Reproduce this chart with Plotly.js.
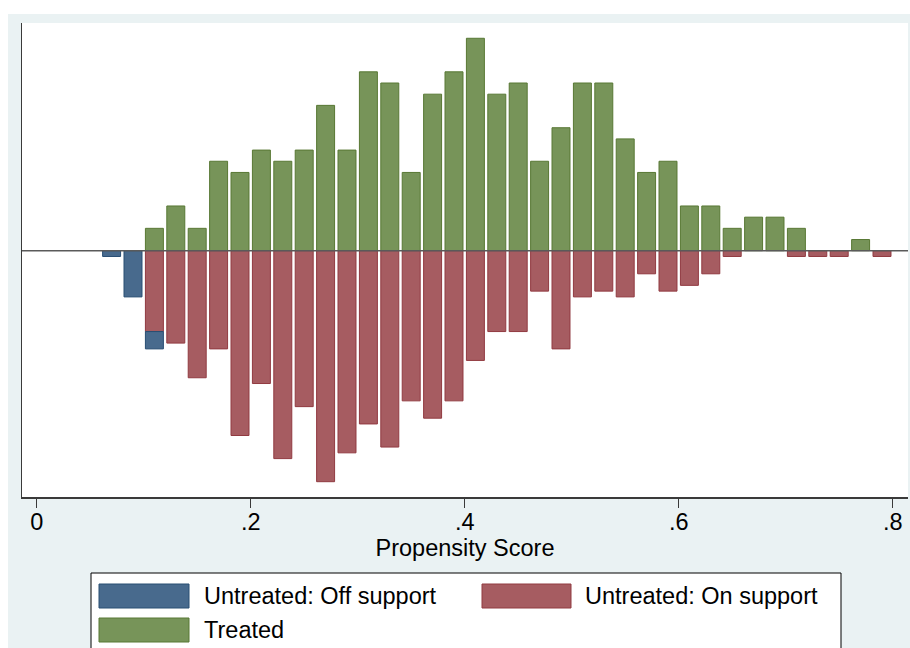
<!DOCTYPE html>
<html>
<head>
<meta charset="utf-8">
<script src="https://cdn.plot.ly/plotly-3.0.1.min.js"></script>
<style>
  html, body { margin: 0; padding: 0; background: #ffffff; width: 910px; height: 648px; overflow: hidden; }
  #chart { position: absolute; left: 8px; top: 14px; width: 902px; height: 634px; }
</style>
</head>
<body>
<div id="chart"></div>
<script>
// Propensity score bins (bin centres)
const treatedX      = [0.11,0.13,0.15,0.17,0.19,0.21,0.23,0.25,0.27,0.29,0.31,0.33,0.35,0.37,0.39,0.41,0.43,0.45,0.47,0.49,0.51,0.53,0.55,0.57,0.59,0.61,0.63,0.65,0.67,0.69,0.71,0.77];
const treatedCount  = [2,4,2,8,7,9,8,9,13,9,16,15,7,14,16,19,14,15,8,11,15,15,10,7,8,4,4,2,3,3,2,1];

const onSupportX     = [0.11,0.13,0.15,0.17,0.19,0.21,0.23,0.25,0.27,0.29,0.31,0.33,0.35,0.37,0.39,0.41,0.43,0.45,0.47,0.49,0.51,0.53,0.55,0.57,0.59,0.61,0.63,0.65,0.71,0.73,0.75,0.79];
const onSupportCount = [14,16,22,17,32,23,36,27,40,35,30,34,26,29,26,19,14,14,7,17,8,7,8,4,7,6,4,1,1,1,1,1];

const offSupportX     = [0.07,0.09,0.11];
const offSupportCount = [1,8,3];

const tickVals = [0, 0.2, 0.4, 0.6, 0.8];
const tickText = ['0', '.2', '.4', '.6', '.8'];

const seriesNames = ['Untreated: Off support', 'Untreated: On support', 'Treated'];
const xTitle = 'Propensity Score';

// colours
const cBlue = 'rgb(72,106,141)',  lBlue = 'rgb(40,78,115)';
const cRed  = 'rgb(166,92,97)',   lRed  = 'rgb(145,58,64)';
const cGreen= 'rgb(119,148,89)',  lGreen= 'rgb(88,120,52)';

const FONT = '"Liberation Sans", Arial, sans-serif';
const FS = 23.5;
const BW = 0.0168;

// page px -> paper coords (plot area spans page x 22..908, y 23..497)
const px = x => (x - 22) / 886;
const py = y => (497 - y) / 474;

const traces = [
  { type: 'bar', x: treatedX, y: treatedCount, width: BW, name: seriesNames[2],
    xaxis: 'x', yaxis: 'y',
    marker: { color: cGreen, line: { color: lGreen, width: 1 } }, hoverinfo: 'x+y' },
  { type: 'bar', x: onSupportX, y: onSupportCount, width: BW, name: seriesNames[1],
    xaxis: 'x', yaxis: 'y2',
    marker: { color: cRed, line: { color: lRed, width: 1 } }, hoverinfo: 'x+y' },
  { type: 'bar', x: offSupportX, y: offSupportCount, width: BW, name: seriesNames[0],
    xaxis: 'x', yaxis: 'y2',
    marker: { color: cBlue, line: { color: lBlue, width: 1 } }, hoverinfo: 'x+y' }
];

const axisColor = '#3a3a3a';

const layout = {
  width: 902, height: 634,
  margin: { l: 14, r: 2, t: 9, b: 151, pad: 0 },
  paper_bgcolor: 'rgb(234,242,243)',
  plot_bgcolor: '#ffffff',
  barmode: 'relative',
  showlegend: false,
  font: { family: FONT, size: FS, color: '#000' },
  xaxis: {
    range: [(22 - 36.7) / 1070, (908 - 36.7) / 1070],
    tickmode: 'array', tickvals: tickVals, ticktext: tickText,
    ticks: 'outside', ticklen: 9, tickwidth: 1.5, tickcolor: axisColor,
    ticklabelstandoff: -6,
    showline: true, linecolor: axisColor, linewidth: 1.5,
    showgrid: false, zeroline: false,
    tickfont: { family: FONT, size: FS, color: '#000' },
    title: { text: xTitle, font: { family: FONT, size: FS, color: '#000' }, standoff: 1 },
    automargin: false, fixedrange: true
  },
  yaxis: {
    range: [-(497 - 250.7) / 11.18, (250.7 - 23) / 11.18],
    showticklabels: false, ticks: '', showgrid: false, zeroline: false,
    showline: true, linecolor: axisColor, linewidth: 1.5, fixedrange: true
  },
  yaxis2: {
    overlaying: 'y',
    range: [(497 - 250.7) / 5.775, -(250.7 - 23) / 5.775],
    showticklabels: false, ticks: '', showgrid: false, zeroline: false,
    showline: false, fixedrange: true
  },
  shapes: [
    // zero line
    { type: 'line', xref: 'paper', yref: 'y', x0: 0, x1: 1, y0: 0, y1: 0,
      line: { color: '#5a5a5a', width: 1.5 }, layer: 'above' },
    // legend box
    { type: 'rect', xref: 'paper', yref: 'paper', x0: px(91), x1: px(841), y0: py(700), y1: py(573),
      fillcolor: '#ffffff', line: { color: '#000', width: 1 }, layer: 'above' },
    { type: 'rect', xref: 'paper', yref: 'paper', x0: px(99), x1: px(189), y0: py(608), y1: py(584),
      fillcolor: cBlue, line: { color: lBlue, width: 1 }, layer: 'above' },
    { type: 'rect', xref: 'paper', yref: 'paper', x0: px(482), x1: px(571), y0: py(608), y1: py(584),
      fillcolor: cRed, line: { color: lRed, width: 1 }, layer: 'above' },
    { type: 'rect', xref: 'paper', yref: 'paper', x0: px(99), x1: px(189), y0: py(642), y1: py(618),
      fillcolor: cGreen, line: { color: lGreen, width: 1 }, layer: 'above' }
  ],
  annotations: [
    { xref: 'paper', yref: 'paper', x: px(202), y: py(596), text: seriesNames[0], showarrow: false,
      xanchor: 'left', yanchor: 'middle', font: { family: FONT, size: FS, color: '#000' } },
    { xref: 'paper', yref: 'paper', x: px(583), y: py(596), text: seriesNames[1], showarrow: false,
      xanchor: 'left', yanchor: 'middle', font: { family: FONT, size: FS, color: '#000' } },
    { xref: 'paper', yref: 'paper', x: px(202), y: py(630), text: seriesNames[2], showarrow: false,
      xanchor: 'left', yanchor: 'middle', font: { family: FONT, size: FS, color: '#000' } }
  ]
};

Plotly.newPlot('chart', traces, layout, { displayModeBar: false, staticPlot: true });
</script>
</body>
</html>
